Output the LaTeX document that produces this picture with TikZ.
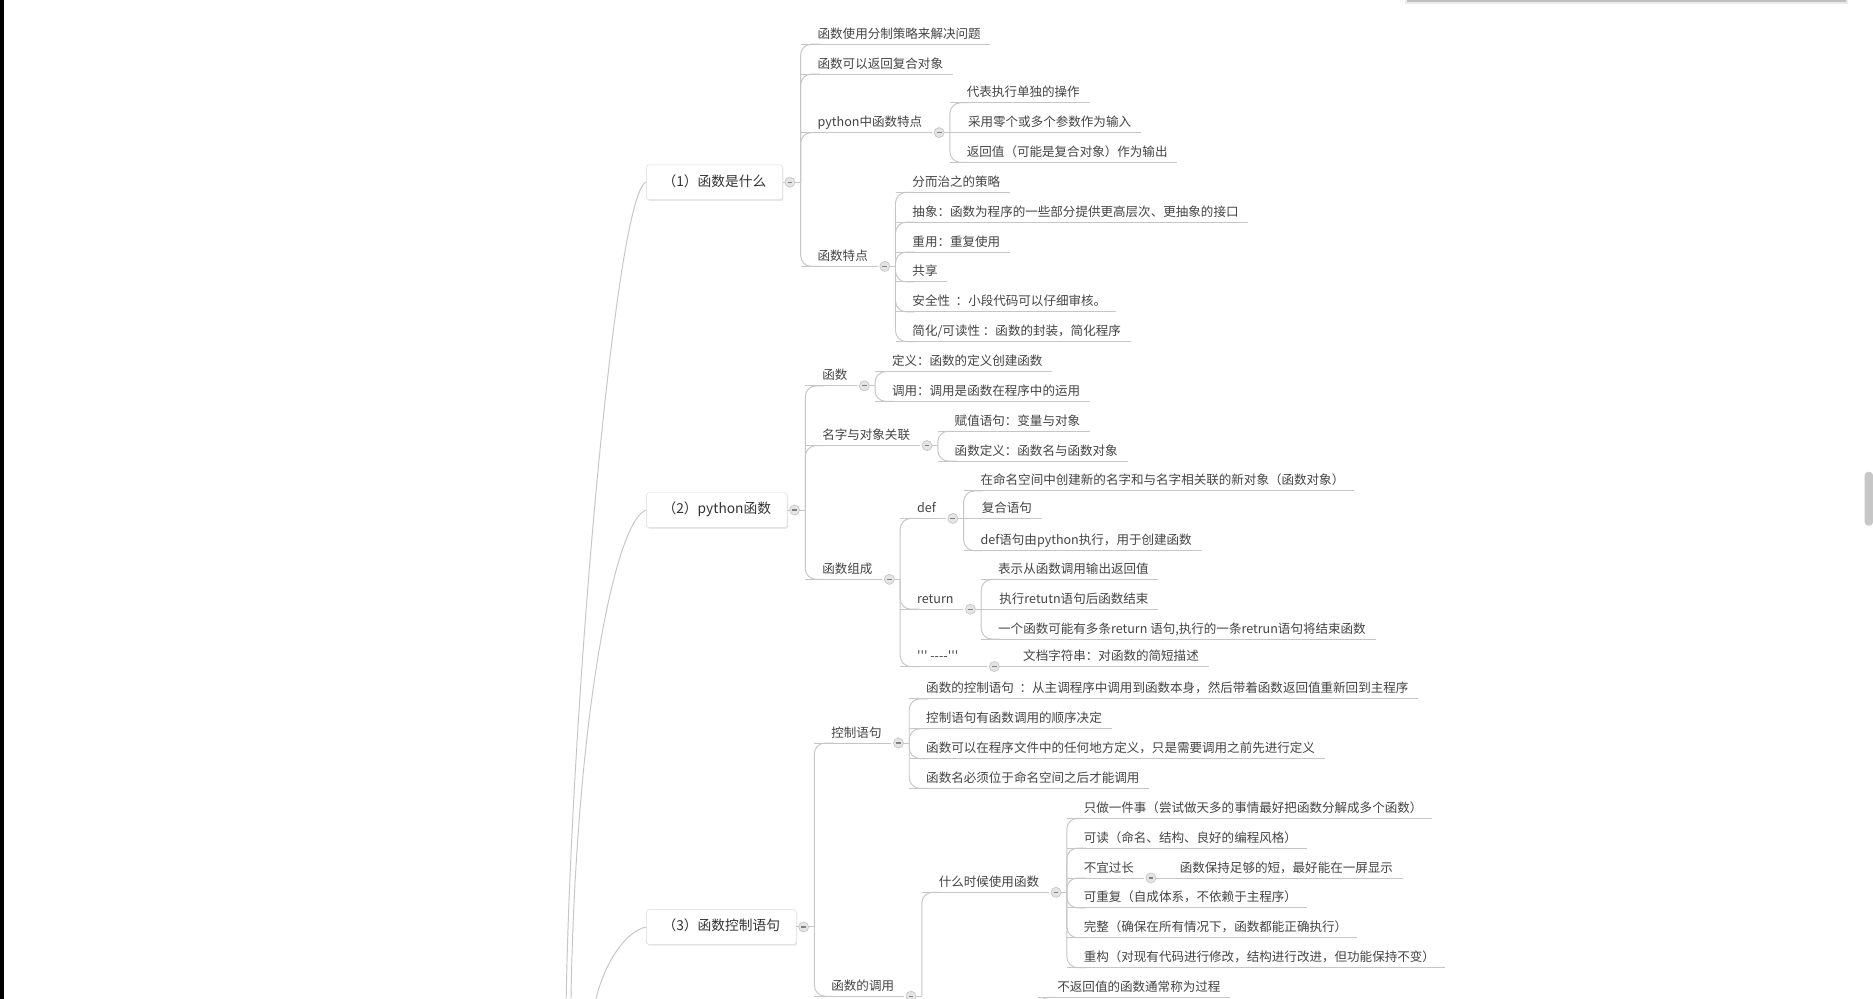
\documentclass[tikz,border=0pt]{standalone}
\usepackage{fontspec}
\newfontfamily\cjk{Noto Sans CJK SC}[Ligatures=TeXOff]
\usetikzlibrary{calc,shadows}
\definecolor{txt}{HTML}{444444}
\definecolor{mtxt}{HTML}{333333}
\definecolor{ln}{HTML}{C6C6C6}
\tikzset{
  leaf/.style={inner sep=0pt, text=txt, font=\cjk\fontsize{10.5}{12}\selectfont, text height=9pt, text depth=2pt},
  conn/.style={draw=ln, line width=0.8pt},
  uline/.style={draw=ln, line width=0.8pt},
  mainbox/.style={draw=black!14, fill=white, rounded corners=2pt, inner xsep=13.5pt, minimum height=29pt,
    text height=9pt, text depth=2.5pt, text=mtxt, font=\cjk\fontsize{11.5}{13}\selectfont,
    drop shadow={opacity=0.18, shadow xshift=0.8pt, shadow yshift=-1.2pt}},
}
% child with bent connector: [extra]{name}{parent circle}{underline y}{text}
\newcommand\kid[5][0]{%
  \coordinate (#2t) at ($(#3)+(9,0)$);
  \coordinate (#2s) at (#2t |- 0,#4);
  \node[leaf, anchor=base west] (#2) at ($(#2s)+(14,-5)$) {#5};
  \coordinate (#2e) at ($(#2s -| #2.east)+(8+#1,0)$);
  \draw[uline] (#2s) -- (#2e);
  \coordinate (#2c) at ($(#2e)+(6,0)$);
  \draw[conn] ($(#3)+(4,0)$) -- (#2t |- #3);
  \draw[conn, rounded corners=9pt] (#2t |- #3) -- (#2s) -- ($(#2s)+(16,0)$);
}
% child level with its parent: [extra]{name}{parent circle}{text}
\newcommand\lvl[4][0]{%
  \coordinate (#2s) at ($(#3)+(8,0)$);
  \node[leaf, anchor=base west] (#2) at ($(#2s)+(16,-5)$) {#4};
  \coordinate (#2e) at ($(#2s -| #2.east)+(8+#1,0)$);
  \draw[uline] (#2s) -- (#2e);
  \coordinate (#2c) at ($(#2e)+(6,0)$);
  \draw[conn] ($(#3)+(4,0)$) -- (#2s);
}
\newcommand\knob[1]{%
  \filldraw[fill=black!10, draw=black!22, line width=0.6pt] (#1) circle (4.2pt);
  \draw[black!50, line width=1pt] ($(#1)+(-2,0)$) -- ($(#1)+(2,0)$);
}
\begin{document}
\begin{tikzpicture}[x=1pt,y=-1pt]
\useasboundingbox (0,0) rectangle (1568,836);
\fill[white] (0,0) rectangle (1568,836);
\fill[black] (0,0) rectangle (3.5,836);
% top-right panel edge and scrollbar
\fill[black!8] (1176,0) rectangle (1547,3);
\fill[black!25] (1178,0) rectangle (1545,1.5);
\fill[black!22, rounded corners=3pt] (1561,395) rectangle (1568,440);

% main topics
\node[mainbox, anchor=west] (m1) at (541,152.5) {（1）函数是什么};
\node[mainbox, anchor=west] (m2) at (541,427) {（2）python函数};
\node[mainbox, anchor=west] (m3) at (541,776) {（3）函数控制语句};
\coordinate (m1c) at ($(m1.east)+(6,0)$);
\coordinate (m2c) at ($(m2.east)+(6,0)$);
\coordinate (m3c) at ($(m3.east)+(6,0)$);
\draw[conn] (m1.east) -- (m1c);
\draw[conn] (m2.east) -- (m2c);
\draw[conn] (m3.east) -- (m3c);

% connectors to the (cut off) root
\coordinate (r1) at (474,836);
\coordinate (r2) at (478,836);
\coordinate (r3) at (499,836);
\draw[conn] (m1.west) .. controls (515,160) and (478,600) .. (r1);
\draw[conn] (m2.west) .. controls (515,435) and (482,600) .. (r2);
\draw[conn] (m3.west) .. controls (522,780) and (505,810) .. (r3);

% (1)
\kid{a1}{m1c}{37}{函数使用分制策略来解决问题}
\kid{a2}{m1c}{62}{函数可以返回复合对象}
\kid{a3}{m1c}{111}{python中函数特点}
\kid{a4}{m1c}{223}{函数特点}
\kid{b1}{a3c}{86}{代表执行单独的操作}
\lvl{b2}{a3c}{采用零个或多个参数作为输入}
\kid{b3}{a3c}{136}{返回值（可能是复合对象）作为输出}
\kid{f1}{a4c}{161}{分而治之的策略}
\kid{f2}{a4c}{186}{抽象：函数为程序的一些部分提供更高层次、更抽象的接口}
\kid{f3}{a4c}{211}{重用：重复使用}
\kid{f4}{a4c}{236}{共享}
\kid{f5}{a4c}{261}{安全性\ \ ：小段代码可以仔细审核。}
\kid{f6}{a4c}{286}{简化/可读性 ：函数的封装，简化程序}

% (2)
\kid{d1}{m2c}{323}{函数}
\kid{d2}{m2c}{373}{名字与对象关联}
\kid{d3}{m2c}{485}{函数组成}
\kid{p1}{d1c}{311}{定义：函数的定义创建函数}
\kid{p2}{d1c}{336}{调用：调用是函数在程序中的运用}
\kid{q1}{d2c}{361}{赋值语句：变量与对象}
\kid{q2}{d2c}{386}{函数定义：函数名与函数对象}
\kid{g1}{d3c}{434}{def}
\kid{g2}{d3c}{510}{return}
\kid[16]{g3}{d3c}{558}{''' ----'''}
\kid{s1}{g1c}{411}{在命名空间中创建新的名字和与名字相关联的新对象（函数对象）}
\lvl{s2}{g1c}{复合语句}
\kid{s3}{g1c}{461}{def语句由python执行，用于创建函数}
\kid{t1}{g2c}{485}{表示从函数调用输出返回值}
\lvl{t2}{g2c}{执行retutn语句后函数结束}
\kid{t3}{g2c}{535}{一个函数可能有多条return 语句,执行的一条retrun语句将结束函数}
\lvl{u1}{g3c}{文档字符串：对函数的简短描述}

% (3)
\kid{e1}{m3c}{622}{控制语句}
\kid{e2}{m3c}{834}{函数的调用}
\kid{k1}{e1c}{585}{函数的控制语句\ \ ：从主调程序中调用到函数本身，然后带着函数返回值重新回到主程序}
\kid{k2}{e1c}{610}{控制语句有函数调用的顺序决定}
\kid{k3}{e1c}{635}{函数可以在程序文件中的任何地方定义，只是需要调用之前先进行定义}
\kid{k4}{e1c}{660}{函数名必须位于命名空间之后才能调用}
\kid{h1}{e2c}{747}{什么时候使用函数}
\kid{w1}{h1c}{685}{只做一件事（尝试做天多的事情最好把函数分解成多个函数）}
\kid{w2}{h1c}{710}{可读（命名、结构、良好的编程风格）}
\kid{w3}{h1c}{735}{不宜过长}
\kid{w4}{h1c}{760}{可重复（自成体系，不依赖于主程序）}
\kid{w5}{h1c}{785}{完整（确保在所有情况下，函数都能正确执行）}
\kid{w6}{h1c}{810}{重构（对现有代码进行修改，结构进行改进，但功能保持不变）}
\lvl{v1}{w3c}{函数保持足够的短，最好能在一屏显示}
% item of a branch that continues below the visible area
\coordinate (h2s) at (869,835);
\coordinate (h2p) at (869,852);
\node[leaf, anchor=base west] (h2) at ($(h2s)+(16,-5)$) {不返回值的函数通常称为过程};
\draw[uline] (h2s) -- ($(h2s -| h2.east)+(8,0)$);
\draw[conn, rounded corners=9pt] (h2p) -- (h2s) -- ($(h2s)+(16,0)$);

% collapse knobs
\foreach \nm in {m1c,m2c,m3c,a3c,a4c,d1c,d2c,d3c,g1c,g2c,g3c,e1c,e2c,h1c,w3c}{\knob{\nm}}
\end{tikzpicture}
\end{document}
